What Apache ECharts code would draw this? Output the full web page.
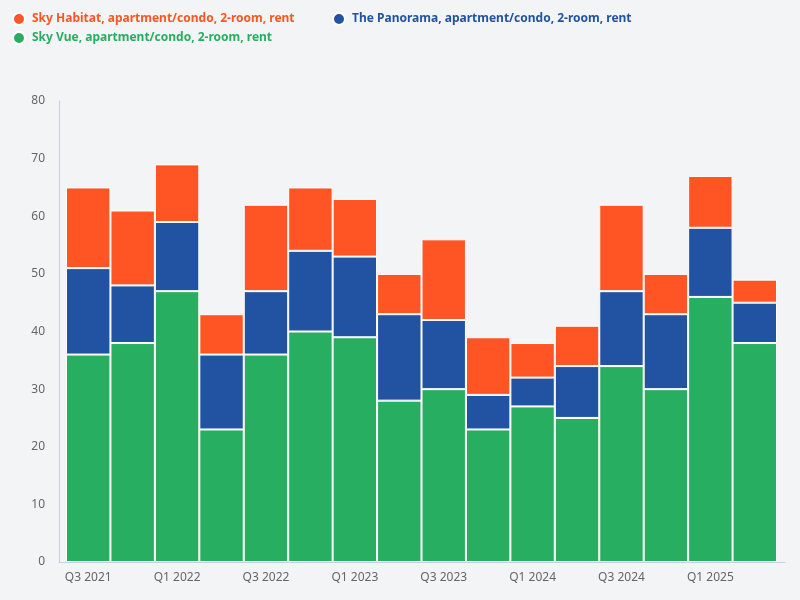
<!DOCTYPE html>
<html>
<head>
<meta charset="utf-8">
<script src="https://cdn.jsdelivr.net/npm/echarts@6/dist/echarts.min.js"></script>
<style>
html,body{margin:0;padding:0;background:#f3f4f6;}
#c{width:800px;height:600px;}
</style>
</head>
<body>
<div id="c"></div>
<script>
var categories = ["Q3 2021","Q4 2021","Q1 2022","Q2 2022","Q3 2022","Q4 2022","Q1 2023","Q2 2023","Q3 2023","Q4 2023","Q1 2024","Q2 2024","Q3 2024","Q4 2024","Q1 2025","Q2 2025"];
var skyVue = [36,38,47,23,36,40,39,28,30,23,27,25,34,30,46,38];
var panorama = [15,10,12,13,11,14,14,15,12,6,5,9,13,13,12,7];
var skyHabitat = [14,13,10,7,15,11,10,7,14,10,6,7,15,7,9,4];
var yTicks = [0,10,20,30,40,50,60,70,80];

var names = {
  habitat: "Sky Habitat, apartment/condo, 2-room, rent",
  panorama: "The Panorama, apartment/condo, 2-room, rent",
  vue: "Sky Vue, apartment/condo, 2-room, rent"
};
var colors = {habitat:"#ff5524", panorama:"#2253a3", vue:"#28ae61"};

function legend(name, color, left, top){
  return {
    data:[{name:name, itemStyle:{color:color}}],
    left:left, top:top, icon:"circle", itemWidth:12, itemHeight:12,
    padding:0,
    textStyle:{color:color, fontFamily:"Noto Sans", fontSize:12, fontWeight:"bold", padding:[0,0,0,2]}
  };
}

var chart = echarts.init(document.getElementById('c'));
chart.setOption({
  backgroundColor:"#f3f4f6",
  animation:false,
  legend:[
    legend(names.habitat, colors.habitat, 12, 12),
    legend(names.panorama, colors.panorama, 332, 12),
    legend(names.vue, colors.vue, 12, 31)
  ],
  grid:[
    {left:66, right:23, top:101, bottom:38},
    {left:59, right:15, top:101, bottom:38}
  ],
  xAxis:[
    {type:"category", gridIndex:0, data:categories,
     axisLine:{show:false}, axisTick:{show:false},
     axisLabel:{interval:1, color:"#666", fontFamily:"Noto Sans", fontSize:12, margin:10}},
    {type:"value", gridIndex:1, min:0, max:1,
     axisLine:{show:true, lineStyle:{color:"#c5d2e4", width:1.2}},
     axisTick:{show:false}, axisLabel:{show:false}, splitLine:{show:false}}
  ],
  yAxis:[
    {type:"value", gridIndex:0, min:0, max:80, interval:10,
     axisLine:{show:false}, axisTick:{show:false}, axisLabel:{show:false}, splitLine:{show:false}},
    {type:"value", gridIndex:1, min:yTicks[0], max:yTicks[yTicks.length-1], interval:10,
     axisLine:{show:true, lineStyle:{color:"#c5d2e4", width:1.2}},
     axisTick:{show:false}, splitLine:{show:false},
     axisLabel:{color:"#666", fontFamily:"Noto Sans", fontSize:12, margin:14}}
  ],
  series:[
    {name:names.vue, type:"bar", stack:"s", data:skyVue, barCategoryGap:"0%",
     itemStyle:{color:colors.vue, borderColor:"#fff", borderWidth:1}},
    {name:names.panorama, type:"bar", stack:"s", data:panorama, barCategoryGap:"0%",
     itemStyle:{color:colors.panorama, borderColor:"#fff", borderWidth:1}},
    {name:names.habitat, type:"bar", stack:"s", data:skyHabitat, barCategoryGap:"0%",
     itemStyle:{color:colors.habitat, borderColor:"#fff", borderWidth:1}}
  ]
});
</script>
</body>
</html>
